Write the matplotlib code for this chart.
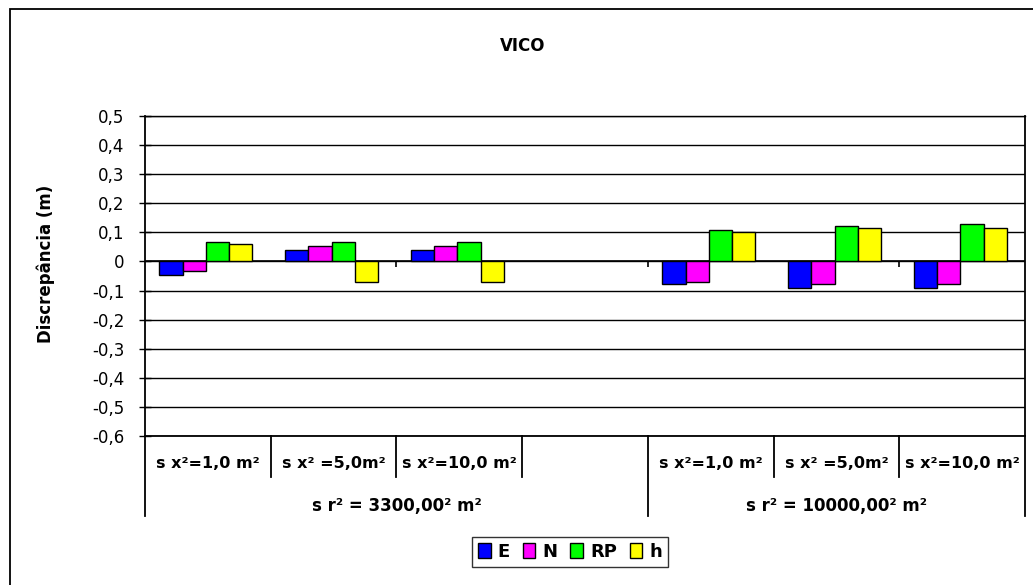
import numpy as np
import matplotlib
matplotlib.use("Agg")
import matplotlib.pyplot as plt
from matplotlib.patches import Rectangle
from matplotlib.ticker import FuncFormatter, MultipleLocator
import matplotlib.transforms as mtransforms

# the original text is horizontally stretched, the wider DejaVu face is closer
plt.rcParams['font.family'] = ['DejaVu Sans']

# data (7 slots, slot 3 is empty)
inner_labels = ["s x²=1,0 m²", "s x² =5,0m²", "s x²=10,0 m²", "",
                "s x²=1,0 m²", "s x² =5,0m²", "s x²=10,0 m²"]
outer_labels = ["s r² = 3300,00² m²", "s r² = 10000,00² m²"]
outer_spans = [(0, 4), (4, 7)]
series_names = ["E", "N", "RP", "h"]
series_colors = ["#0000FF", "#FF00FF", "#00FF00", "#FFFF00"]
E = [-0.048, 0.041, 0.041, np.nan, -0.077, -0.090, -0.090]
N = [-0.034, 0.054, 0.054, np.nan, -0.069, -0.077, -0.077]
RP = [0.068, 0.068, 0.068, np.nan, 0.108, 0.121, 0.130]
h = [0.060, -0.069, -0.069, np.nan, 0.102, 0.114, 0.114]
series = [E, N, RP, h]

W, H = 1033, 585
fig = plt.figure(figsize=(W / 100, H / 100), dpi=100)
fig.patch.set_facecolor("white")

# outer chart frame (only left/top visible in the picture)
fig.patches.append(Rectangle((10 / W, -0.1), 1.2, 1.1 - 9 / H,
                             transform=fig.transFigure, fill=False,
                             edgecolor="black", linewidth=1.3))

left, right, top, bottom = 145, 1025, 116, 436
ax = fig.add_axes([left / W, 1 - bottom / H, (right - left) / W, (bottom - top) / H])

ncat = len(inner_labels)
bw = 0.185
off0 = 0.115
x = np.arange(ncat)
for i, (vals, name, col) in enumerate(zip(series, series_names, series_colors)):
    ax.bar(x + off0 + i * bw, vals, width=bw, align="edge", color=col,
           edgecolor="black", linewidth=1.0, label=name, zorder=3)

ax.set_xlim(0, ncat)
ax.set_ylim(-0.6, 0.5)
ax.yaxis.set_major_locator(MultipleLocator(0.1))

def fmt(v, p):
    if abs(v) < 1e-9:
        return "0"
    return f"{v:.1f}".replace(".", ",")
ax.yaxis.set_major_formatter(FuncFormatter(fmt))
ax.tick_params(axis="y", direction="inout", length=8, width=1.0, labelsize=12, pad=11)
ax.set_xticks([])
ax.grid(axis="y", color="black", linewidth=1.0, zorder=0)
for s in ["left", "bottom", "right"]:
    ax.spines[s].set_linewidth(1.3)
ax.spines["top"].set_linewidth(1.0)

# zero line with category ticks every second slot
ax.axhline(0, color="black", linewidth=1.2, zorder=2)
ax.vlines(np.arange(2, ncat, 2), -0.018, 0, color="black", linewidth=1.2, zorder=2)

# two-level category axis
trans = mtransforms.blended_transform_factory(ax.transData, ax.transAxes)
ph = bottom - top
y_in = -(477 - bottom) / ph
y_out = -(516 - bottom) / ph
for b in range(ncat + 1):
    is_outer = any(b in sp for sp in outer_spans)
    ax.plot([b, b], [0, y_out if is_outer else y_in], color="black",
            linewidth=1.3, transform=trans, clip_on=False)
for i, lab in enumerate(inner_labels):
    ax.text(i + 0.5, -(463 - bottom) / ph, lab, transform=trans,
            ha="center", va="center", fontsize=11.5, fontweight="bold")
for lab, (a, b) in zip(outer_labels, outer_spans):
    ax.text((a + b) / 2, -(506 - bottom) / ph, lab, transform=trans,
            ha="center", va="center", fontsize=12, fontweight="bold")

fig.text(46 / W, 1 - 264 / H, "Discrepância (m)", rotation=90, ha="center",
         va="center", fontsize=12, fontweight="bold")
fig.text(523 / W, 1 - 46 / H, "VICO", ha="center", va="center",
         fontsize=12, fontweight="bold")

leg = fig.legend(loc="center", bbox_to_anchor=(570 / W, 1 - 552 / H), ncol=4,
                 frameon=True, fancybox=False, edgecolor="black",
                 handlelength=0.7, handleheight=0.9, handletextpad=0.4,
                 columnspacing=0.7, borderpad=0.35,
                 prop={"weight": "bold", "size": 13})
leg.get_frame().set_linewidth(1.0)
for p in leg.get_patches():
    p.set_linewidth(1.0)

fig.savefig("out.png", dpi=100)
